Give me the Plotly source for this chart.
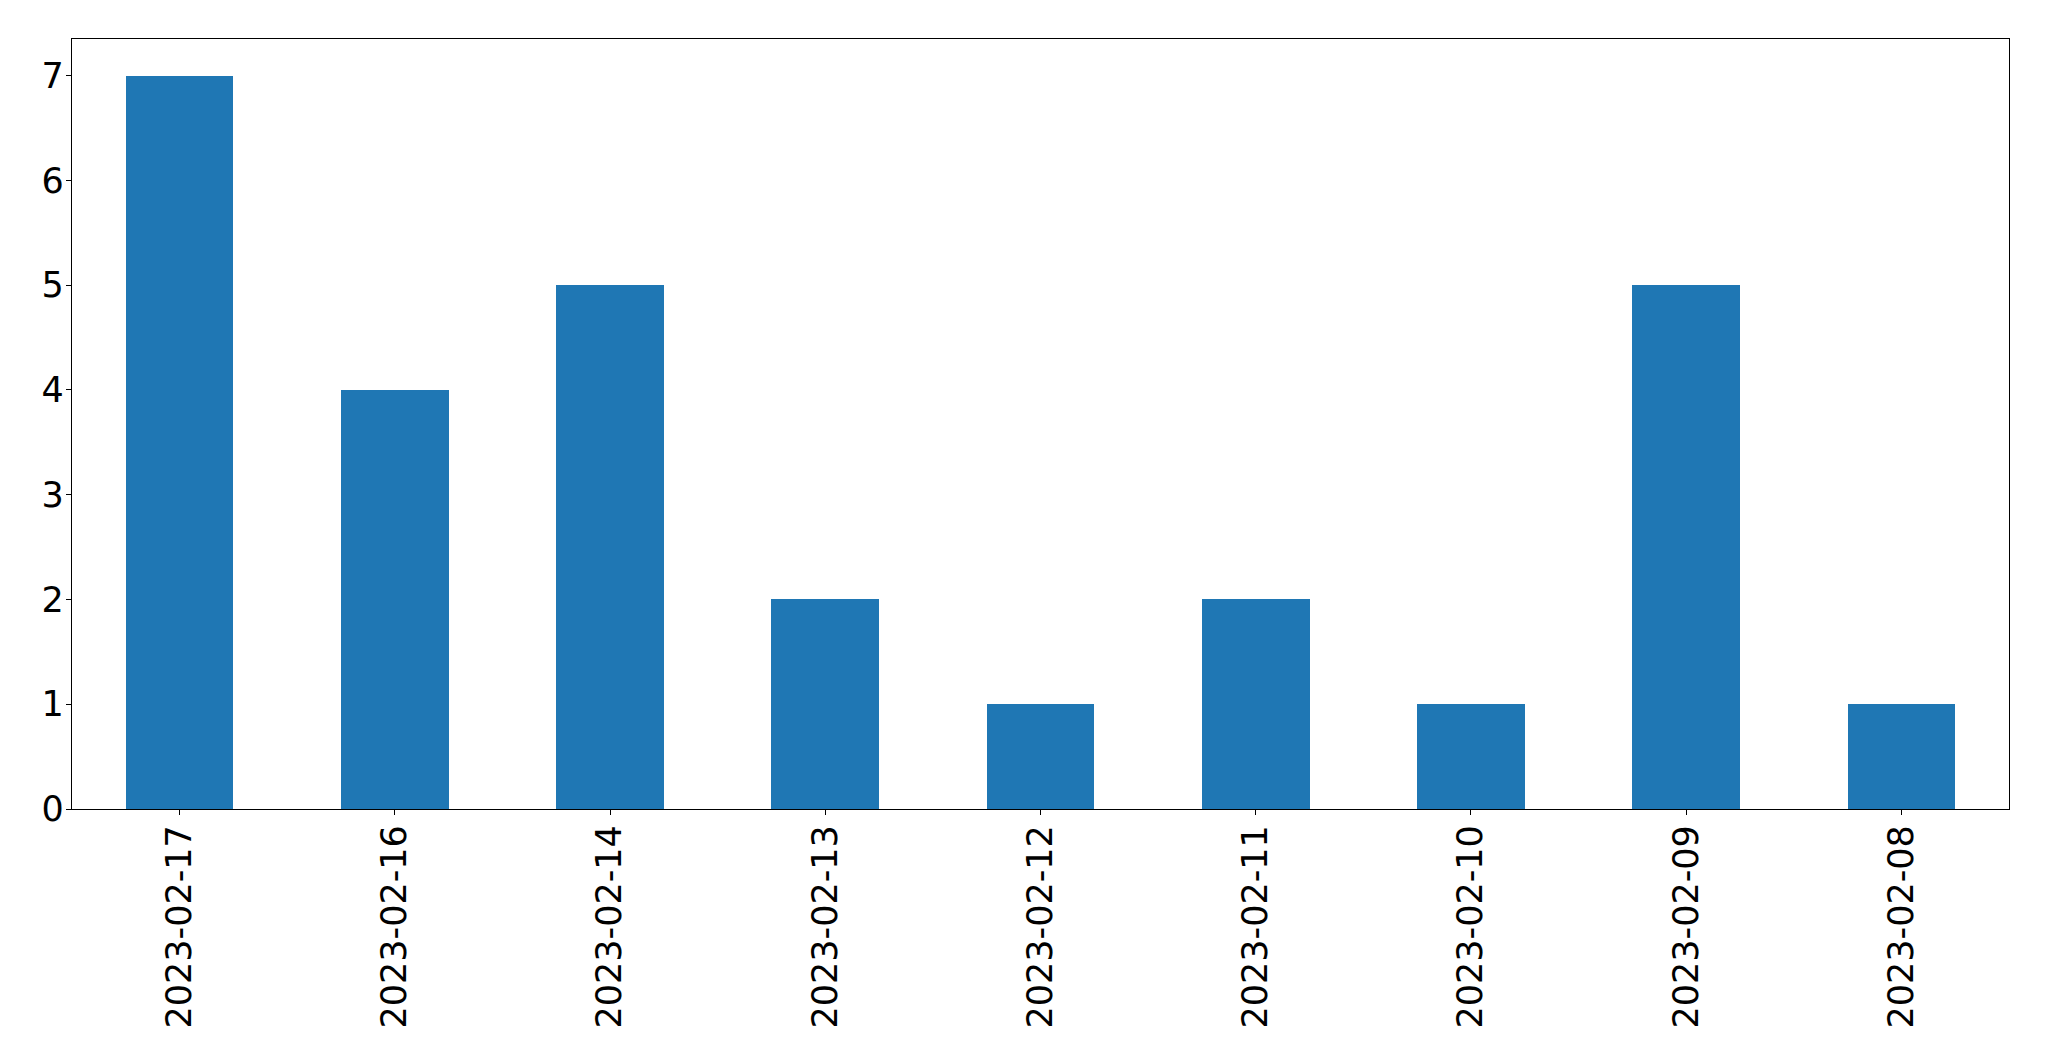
import plotly.graph_objects as go

dates = ["2023-02-17", "2023-02-16", "2023-02-14", "2023-02-13", "2023-02-12",
         "2023-02-11", "2023-02-10", "2023-02-09", "2023-02-08"]
counts = [7, 4, 5, 2, 1, 2, 1, 5, 1]

fig = go.Figure(go.Bar(x=dates, y=counts, marker_color="#1f77b4",
                       marker_line_width=0, width=0.5))

axis_common = dict(showline=True, linecolor="black", linewidth=1.3, mirror=True,
                   ticks="outside", ticklen=5, tickwidth=1.3, tickcolor="black",
                   showgrid=False, zeroline=False,
                   tickfont=dict(family="DejaVu Sans", size=35, color="black"))

# page body has an 8px default margin; size the figure to fit the window
fig.update_layout(
    width=2033, height=1045,
    margin=dict(l=64, r=32, t=31, b=244),
    paper_bgcolor="white", plot_bgcolor="white",
    showlegend=False,
    bargap=0,
    xaxis=dict(type="category", range=[-0.5, 8.5], tickangle=-90,
               ticklabelstandoff=-4, automargin=False, **axis_common),
    yaxis=dict(range=[0, 7.35], tick0=0, dtick=1, ticklabelstandoff=-5,
               automargin=False, **axis_common),
)

fig.write_html("out.html")
